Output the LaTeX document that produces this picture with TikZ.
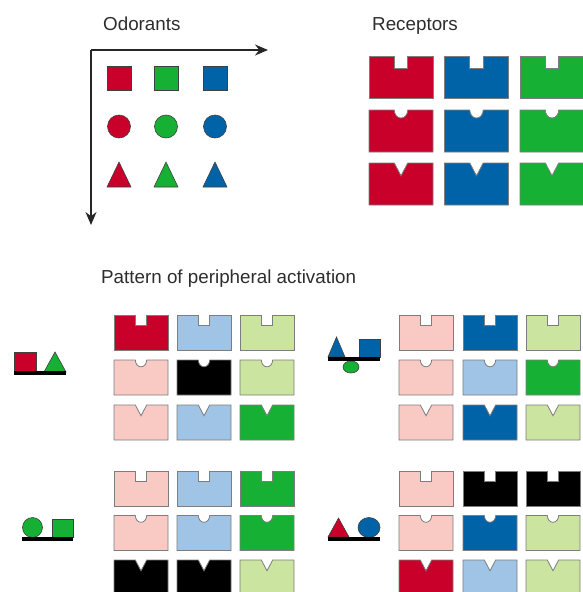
\documentclass[tikz,border=0pt]{standalone}
\usepackage{fontspec}
\setmainfont{Liberation Sans}
\usetikzlibrary{arrows.meta}
\definecolor{cred}{RGB}{200,0,42}
\definecolor{cblue}{RGB}{0,99,168}
\definecolor{cgreen}{RGB}{22,176,52}
\definecolor{cpink}{RGB}{249,201,195}
\definecolor{clblue}{RGB}{160,196,230}
\definecolor{clgreen}{RGB}{203,228,160}
\definecolor{cblack}{RGB}{0,0,0}
\definecolor{rcpline}{RGB}{125,125,125}
\definecolor{txtgray}{RGB}{45,45,45}
\tikzset{
  rcpbox/.style={draw=rcpline, line width=0.8pt, line join=miter},
  odo/.style={draw=black!75, line width=0.6pt},
  bar/.style={fill=black},
  lbl/.style={anchor=base west, inner sep=0pt, text=txtgray, font=\fontsize{18.8}{22}\selectfont},
  axis/.style={draw=black!85, line width=1.1pt, -{Stealth[length=13pt,width=11pt]}}
}
% #1 left, #2 top, #3 width, #4 height, #5 notch type (1 square, 2 round, 3 V), #6 colour
\newcommand\rcp[6]{%
  \pgfmathsetmacro\rL{#1}\pgfmathsetmacro\rR{#1+#3}\pgfmathsetmacro\rC{#1+#3/2}%
  \pgfmathsetmacro\rT{#2}\pgfmathsetmacro\rB{#2+#4}%
  \pgfmathsetmacro\rN{#3*0.105}\pgfmathsetmacro\rD{#3*0.2}%
  \ifcase#5\or
    \path[rcpbox, fill=#6] (\rL,\rT) -- (\rC-\rN,\rT) -- (\rC-\rN,\rT+\rD) -- (\rC+\rN,\rT+\rD) -- (\rC+\rN,\rT) -- (\rR,\rT) -- (\rR,\rB) -- (\rL,\rB) -- cycle;
  \or
    \path[rcpbox, fill=#6] (\rL,\rT) -- (\rC-\rN,\rT) arc[start angle=180, end angle=0, x radius=\rN, y radius=\rN*1.2] -- (\rR,\rT) -- (\rR,\rB) -- (\rL,\rB) -- cycle;
  \or
    \path[rcpbox, fill=#6] (\rL,\rT) -- (\rC-\rN,\rT) -- (\rC,\rT+\rD) -- (\rC+\rN,\rT) -- (\rR,\rT) -- (\rR,\rB) -- (\rL,\rB) -- cycle;
  \fi}
\begin{document}
\begin{tikzpicture}[x=1pt, y=-1pt]
\useasboundingbox (0,0) rectangle (582,592);
% ---- labels
\node[lbl] (odorants) at (103,30) {Odorants};
\node[lbl] (receptors) at (372,30) {Receptors};
\node[lbl] (pattern) at (101,283) {Pattern of peripheral activation};
% ---- axes
\coordinate (origin) at (91,50);
\coordinate (xend) at (268,50);
\coordinate (yend) at (91,225);
\draw[axis] (origin) -- (xend);
\draw[axis] (origin) -- (yend);
% ---- odorants
\foreach \c/\x in {cred/107, cgreen/154, cblue/203}{
  \path[odo, fill=\c] (\x,66) rectangle (\x+24,90);
  \path[odo, fill=\c] (\x+12,126.5) circle[radius=11.5];
  \path[odo, fill=\c] (\x,187) -- (\x+24,187) -- (\x+12,162) -- cycle;
}
% ---- receptors
\foreach \c [count=\i] in {cred, cblue, cgreen}{
  \pgfmathsetmacro\xx{369+75.5*(\i-1)}
  \rcp{\xx}{56}{64}{42}{1}{\c}
  \rcp{\xx}{110}{64}{42}{2}{\c}
  \rcp{\xx}{163}{64}{42}{3}{\c}
}
% ---- pattern 1 : red square + green triangle
\rcp{114}{315}{54}{35}{1}{cred}\rcp{177}{315}{54}{35}{1}{clblue}\rcp{240}{315}{54}{35}{1}{clgreen}
\rcp{114}{360}{54}{35}{2}{cpink}\rcp{177}{360}{54}{35}{2}{cblack}\rcp{240}{360}{54}{35}{2}{clgreen}
\rcp{114}{405}{54}{35}{3}{cpink}\rcp{177}{405}{54}{35}{3}{clblue}\rcp{240}{405}{54}{35}{3}{cgreen}
\path[odo, fill=cred] (14,352) rectangle (36,372);
\path[odo, fill=cgreen] (44,372) -- (66,372) -- (55,352) -- cycle;
\path[bar] (14,371) rectangle (66,375);
% ---- pattern 2 : blue triangle + blue square + green circle
\rcp{399}{315}{54}{35}{1}{cpink}\rcp{463}{315}{54}{35}{1}{cblue}\rcp{526}{315}{54}{35}{1}{clgreen}
\rcp{399}{360}{54}{35}{2}{cpink}\rcp{463}{360}{54}{35}{2}{clblue}\rcp{526}{360}{54}{35}{2}{cgreen}
\rcp{399}{405}{54}{35}{3}{cpink}\rcp{463}{405}{54}{35}{3}{cblue}\rcp{526}{405}{54}{35}{3}{clgreen}
\path[odo, fill=cgreen] (351,367) ellipse[x radius=8, y radius=6];
\path[odo, fill=cblue] (328,357) -- (345,357) -- (336.5,337) -- cycle;
\path[odo, fill=cblue] (359,339) rectangle (380,357);
\path[bar] (328,356.5) rectangle (380,361);
% ---- pattern 3 : green circle + green square
\rcp{114}{471}{54}{35}{1}{cpink}\rcp{177}{471}{54}{35}{1}{clblue}\rcp{240}{471}{54}{35}{1}{cgreen}
\rcp{114}{515.5}{54}{35}{2}{cpink}\rcp{177}{515.5}{54}{35}{2}{clblue}\rcp{240}{515.5}{54}{35}{2}{cgreen}
\rcp{114}{560}{54}{35}{3}{cblack}\rcp{177}{560}{54}{35}{3}{cblack}\rcp{240}{560}{54}{35}{3}{clgreen}
\path[odo, fill=cgreen] (32.5,527.5) circle[radius=10];
\path[odo, fill=cgreen] (52,519) rectangle (73,537);
\path[bar] (22,536.5) rectangle (73,541);
% ---- pattern 4 : red triangle + blue circle
\rcp{399}{471}{54}{35}{1}{cpink}\rcp{463}{471}{54}{35}{1}{cblack}\rcp{526}{471}{54}{35}{1}{cblack}
\rcp{399}{515.5}{54}{35}{2}{cpink}\rcp{463}{515.5}{54}{35}{2}{cblue}\rcp{526}{515.5}{54}{35}{2}{clgreen}
\rcp{399}{560}{54}{35}{3}{cred}\rcp{463}{560}{54}{35}{3}{clblue}\rcp{526}{560}{54}{35}{3}{clgreen}
\path[odo, fill=cred] (328,537) -- (349,537) -- (338.5,518) -- cycle;
\path[odo, fill=cblue] (369,527.5) ellipse[x radius=11, y radius=10];
\path[bar] (328,536.5) rectangle (380,541);
\end{tikzpicture}
\end{document}
